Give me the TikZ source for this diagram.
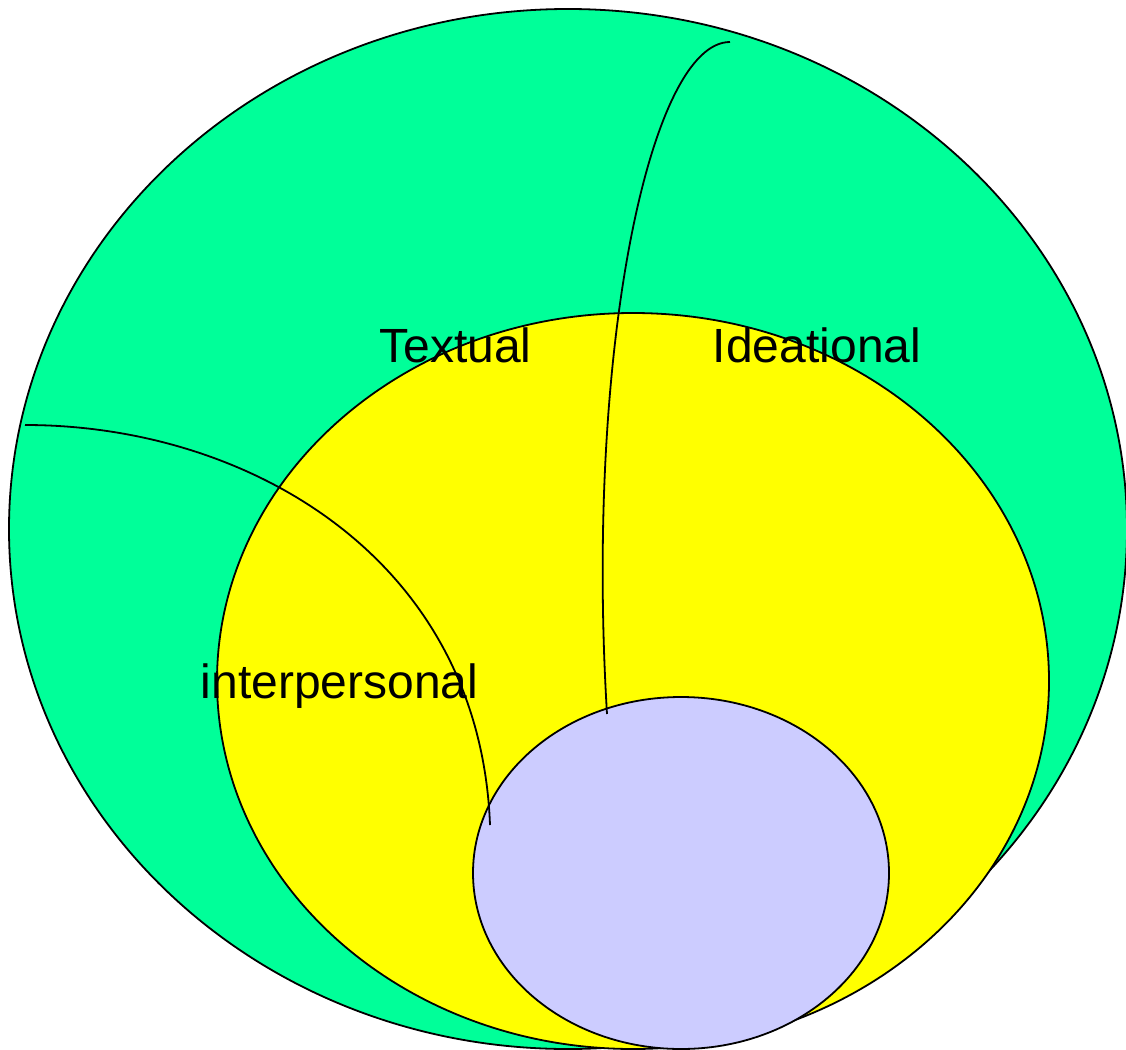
\documentclass[tikz,border=0pt]{standalone}
\usepackage{fontspec}
\setmainfont{Liberation Sans}
\begin{document}
\begin{tikzpicture}[x=1pt,y=-1pt,
  region/.style={draw=black,line width=1.8pt},
  curveline/.style={draw=black,line width=1.8pt},
  lab/.style={anchor=base,inner sep=0pt,font=\fontsize{48}{56}\selectfont}]
\definecolor{outergreen}{HTML}{00FF99}
\definecolor{midyellow}{HTML}{FFFF00}
\definecolor{innerblue}{HTML}{CCCCFF}
\useasboundingbox (0,0) rectangle (1126,1049);
\clip (0,0) rectangle (1126,1049);
\filldraw[region,fill=outergreen] (568,529) ellipse [x radius=559,y radius=520];
\filldraw[region,fill=midyellow] (633,681) ellipse [x radius=416,y radius=368];
\filldraw[region,fill=innerblue] (681,873) ellipse [x radius=208,y radius=176];
\coordinate (c1s) at (730,42);
\coordinate (c1e) at (607,714);
\coordinate (c2s) at (25,425);
\coordinate (c2e) at (490,825);
\draw[curveline] (c1s) .. controls (650,42) and (585,350) .. (c1e);
\draw[curveline] (c2s) .. controls (250,425) and (480,560) .. (c2e);
\node[lab] (textual) at (455.5,362) {Textual};
\node[lab] (ideational) at (817,362) {Ideational};
\node[lab] (interpersonal) at (339.5,698) {interpersonal};
\end{tikzpicture}
\end{document}
